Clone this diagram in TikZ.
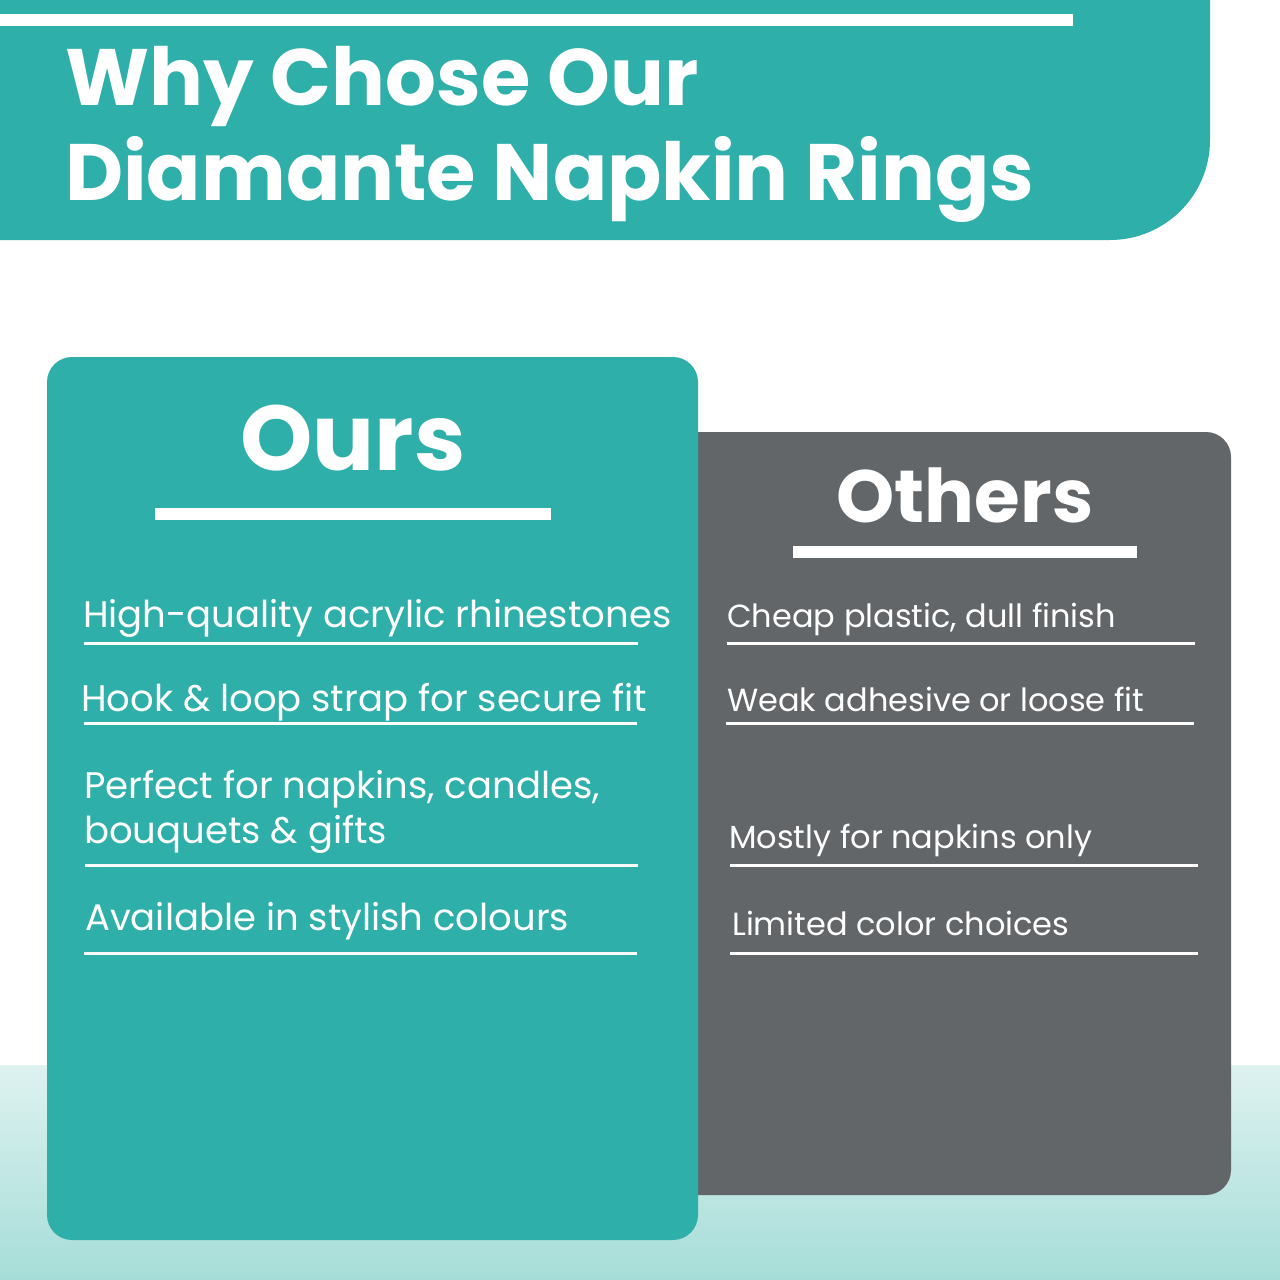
\documentclass[tikz,border=0pt]{standalone}
\usepackage{fontspec}
\setmainfont{Poppins}
\begin{document}
\begin{tikzpicture}[x=1pt,y=-1pt,
  teal/.style={fill={rgb,255:red,47;green,175;blue,169}},
  txt/.style={text=white,inner sep=0pt,anchor=base west},
  rule/.style={draw=white,line width=3pt},
  thick rule/.style={draw=white,line width=12pt}]
\useasboundingbox (0,0) rectangle (1280,1280);
\fill[white] (0,0) rectangle (1280,1280);
\shade[top color={rgb,255:red,222;green,242;blue,240},bottom color={rgb,255:red,166;green,221;blue,216}] (0,1065) rectangle (1280,1280);
% header
\fill[teal] (0,0) -- (1210,0) -- (1210,140) arc[start angle=0,end angle=90,radius=100] -- (0,240) -- cycle;
\draw[thick rule] (0,20) -- (1073,20);
\node[txt,font=\fontsize{80}{80}\bfseries] (t1) at (65,105) {Why Chose Our};
\node[txt,font=\fontsize{80}{80}\bfseries] (t2) at (65,200) {Diamante Napkin Rings};
% others box
\fill[fill={rgb,255:red,99;green,102;blue,105},rounded corners=25] (660,432) rectangle (1231,1195);
% ours box
\fill[teal,rounded corners=25] (47,357) rectangle (698,1240);
\node[text=white,inner sep=0pt,anchor=base,font=\fontsize{92}{92}\bfseries] (ours) at (353,470) {Ours};
\draw[thick rule] (155,514) -- (551,514);
\node[text=white,inner sep=0pt,anchor=base,font=\fontsize{74}{74}\bfseries] (oth) at (965,522) {Others};
\draw[thick rule] (793,552) -- (1137,552);
% ours items
\begin{scope}[every node/.style={txt,font=\fontsize{37}{45}\selectfont}]
\node (o1) at (83,627) {High-quality acrylic rhinestones};
\node (o2) at (81,711) {Hook \& loop strap for secure fit};
\node (o3) at (84,798) {Perfect for napkins, candles,};
\node (o3b) at (84,843) {bouquets \& gifts};
\node (o4) at (85,930) {Available in stylish colours};
\end{scope}
\draw[rule] (84,643) -- (638,643);
\draw[rule] (84,723) -- (637,723);
\draw[rule] (85,865) -- (638,865);
\draw[rule] (84,953) -- (637,953);
% others items
\begin{scope}[every node/.style={txt,font=\fontsize{32}{40}\selectfont}]
\node (p1) at (727,627) {Cheap plastic, dull finish};
\node (p2) at (727,711) {Weak adhesive or loose fit};
\node (p3) at (729,848) {Mostly for napkins only};
\node (p4) at (732,935) {Limited color choices};
\end{scope}
\draw[rule] (727,643) -- (1195,643);
\draw[rule] (726,723) -- (1194,723);
\draw[rule] (730,865) -- (1198,865);
\draw[rule] (730,953) -- (1198,953);
\end{tikzpicture}
\end{document}
